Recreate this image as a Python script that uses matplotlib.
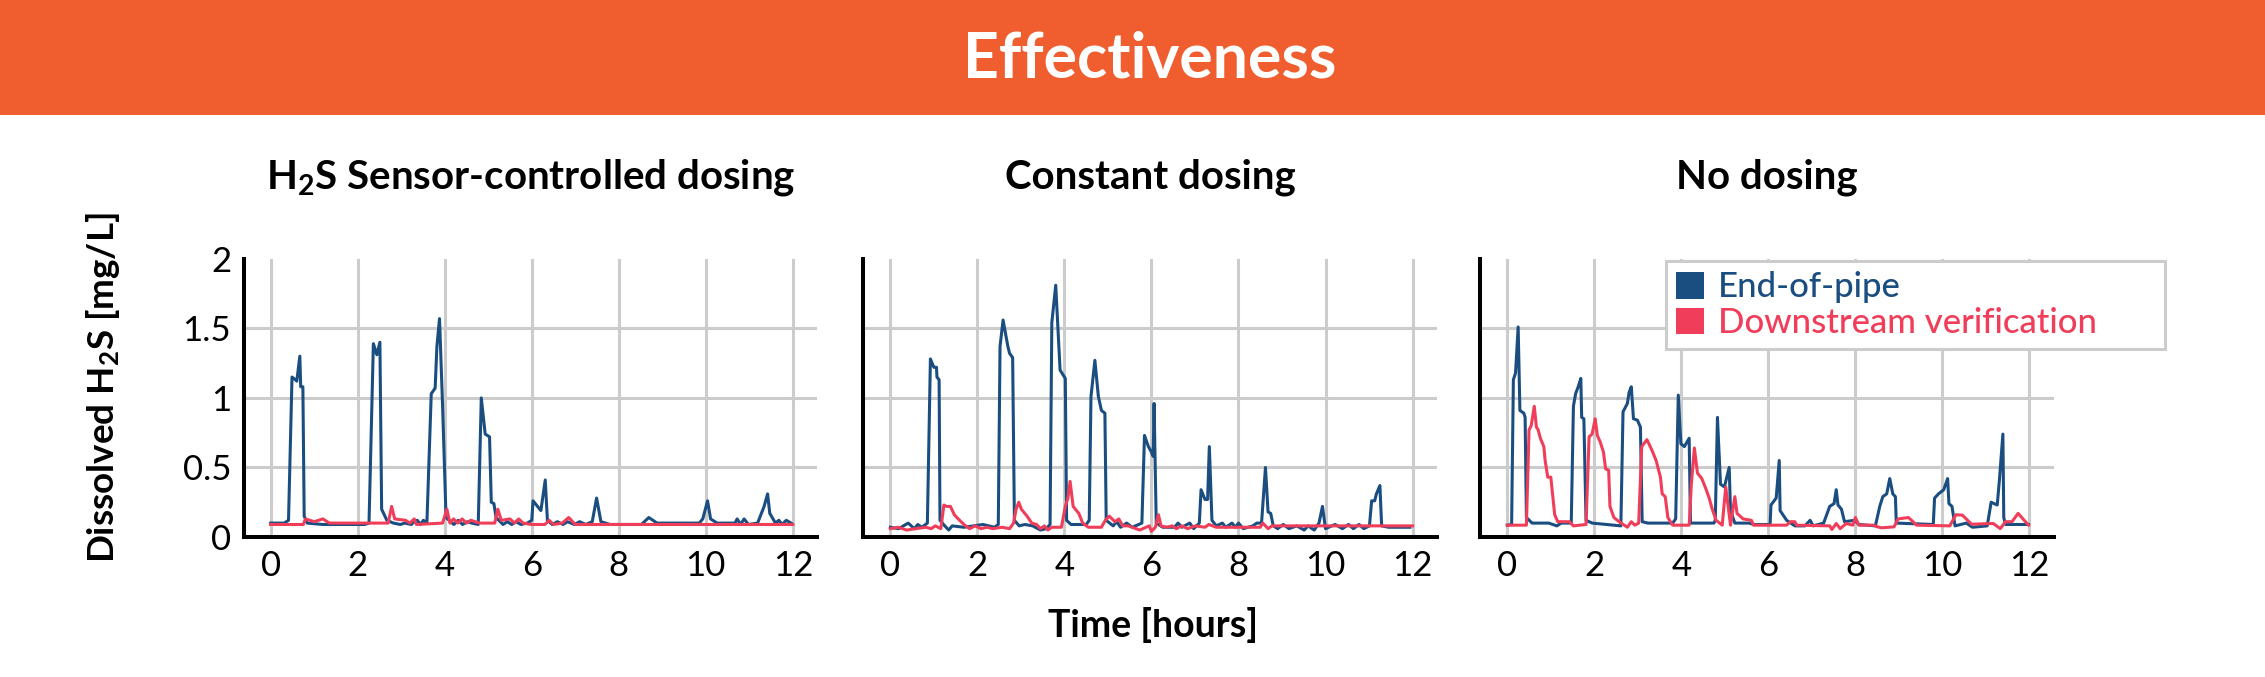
import numpy as np
import matplotlib
matplotlib.use("Agg")
import matplotlib.pyplot as plt
from matplotlib.patches import Patch, Rectangle

plt.rcParams['font.family'] = ['Lato', 'DejaVu Sans']
plt.rcParams['mathtext.default'] = 'regular'

blue = '#1B4E80'
red = '#F03E5A'
orange = '#F05E2F'
grid_grey = '#CCCCCC'

titles = ['H$_2$S Sensor-controlled dosing', 'Constant dosing', 'No dosing']
series_names = ['End-of-pipe', 'Downstream verification']
x_ticks = [0, 2, 4, 6, 8, 10, 12]
y_ticks = [0, 0.5, 1, 1.5, 2]
y_tick_labels = ['0', '0.5', '1', '1.5', '2']

# sensor-controlled dosing
sensor_end_x = [0, 0.31, 0.41, 0.49, 0.57, 0.60, 0.67, 0.69, 0.74, 0.77, 0.84, 1.2, 1.6, 2.16, 2.26, 2.36, 2.44,
                2.51, 2.55, 2.67, 2.82, 2.98, 3.08, 3.23, 3.30, 3.37, 3.44, 3.51, 3.59, 3.69, 3.78, 3.82, 3.88,
                3.95, 4.03, 4.21, 4.31, 4.41, 4.52, 4.62, 4.77, 4.84, 4.93, 5.03, 5.07, 5.13, 5.18, 5.34, 5.44,
                5.54, 5.64, 5.75, 5.90, 6.0, 6.03, 6.21, 6.31, 6.36, 6.47, 6.59, 6.72, 6.82, 6.98, 7.10, 7.24,
                7.39, 7.49, 7.59, 7.80, 8.52, 8.69, 8.88, 9.85, 9.93, 10.04, 10.11, 10.26, 10.67, 10.72, 10.80,
                10.88, 10.98, 11.19, 11.34, 11.42, 11.47, 11.60, 11.68, 11.75, 11.85, 11.96]
sensor_end_y = [0.10, 0.10, 0.12, 1.15, 1.13, 1.12, 1.30, 1.08, 1.08, 0.15, 0.10, 0.09, 0.09, 0.09, 0.10, 1.39, 1.31,
                1.40, 0.20, 0.12, 0.10, 0.09, 0.10, 0.09, 0.11, 0.12, 0.09, 0.12, 0.10, 1.03, 1.07, 1.37, 1.57,
                0.95, 0.14, 0.09, 0.12, 0.09, 0.11, 0.10, 0.09, 1.00, 0.74, 0.72, 0.25, 0.24, 0.14, 0.09, 0.11,
                0.09, 0.11, 0.09, 0.10, 0.12, 0.26, 0.19, 0.41, 0.12, 0.09, 0.11, 0.09, 0.11, 0.09, 0.11, 0.09,
                0.11, 0.28, 0.11, 0.09, 0.09, 0.14, 0.10, 0.10, 0.13, 0.26, 0.13, 0.10, 0.10, 0.13, 0.09,
                0.13, 0.09, 0.10, 0.22, 0.31, 0.17, 0.10, 0.12, 0.09, 0.12, 0.10]
sensor_down_x = [0, 0.75, 0.80, 1.0, 1.2, 1.35, 2.70, 2.78, 2.85, 3.1, 3.2, 3.3, 3.35, 3.95, 4.05, 4.12, 4.2, 4.3,
                 4.4, 4.5, 4.6, 4.8, 5.15, 5.22, 5.3, 5.5, 5.6, 5.7, 5.8, 6.0, 6.3, 6.4, 6.5, 6.7, 6.85, 7.0, 12.0]
sensor_down_y = [0.09, 0.09, 0.13, 0.11, 0.13, 0.10, 0.10, 0.22, 0.13, 0.12, 0.10, 0.13, 0.09, 0.10, 0.20, 0.10,
                 0.13, 0.10, 0.13, 0.10, 0.12, 0.10, 0.10, 0.20, 0.12, 0.13, 0.10, 0.13, 0.10, 0.09, 0.09, 0.12,
                 0.09, 0.10, 0.14, 0.09, 0.09]

# constant dosing
const_end_x = [0, 0.19, 0.41, 0.55, 0.63, 0.72, 0.81, 0.85, 0.92, 1.0, 1.06, 1.07, 1.12, 1.14, 1.25, 1.34, 1.42,
               1.69, 2.13, 2.39, 2.48, 2.52, 2.59, 2.70, 2.74, 2.81, 2.85, 2.96, 3.09, 3.27, 3.45, 3.58, 3.67,
               3.71, 3.80, 3.90, 4.02, 4.05, 4.15, 4.50, 4.57, 4.61, 4.70, 4.78, 4.85, 4.93, 4.96, 5.12, 5.20,
               5.29, 5.43, 5.56, 5.78, 5.84, 5.93, 6.0, 6.04, 6.06, 6.11, 6.26, 6.53, 6.61, 6.70, 6.88, 6.97,
               7.10, 7.14, 7.23, 7.29, 7.33, 7.39, 7.49, 7.63, 7.71, 7.85, 7.93, 8.0, 8.11, 8.33, 8.42, 8.53,
               8.62, 8.68, 8.74, 8.80, 8.90, 9.03, 9.16, 9.34, 9.51, 9.60, 9.74, 9.85, 9.93, 10.0, 10.22,
               10.39, 10.53, 10.64, 10.77, 10.88, 11.01, 11.06, 11.13, 11.17, 11.25, 11.29, 11.45, 11.94]
const_end_y = [0.07, 0.06, 0.10, 0.06, 0.09, 0.07, 0.09, 0.10, 1.28, 1.22, 1.22, 1.15, 1.13, 0.12, 0.08, 0.05, 0.08,
               0.07, 0.09, 0.07, 0.09, 1.37, 1.56, 1.37, 1.32, 1.29, 0.12, 0.08, 0.09, 0.08, 0.05, 0.06, 0.09,
               1.54, 1.81, 1.20, 1.14, 0.12, 0.09, 0.09, 0.12, 1.01, 1.27, 1.01, 0.91, 0.89, 0.12, 0.08, 0.11,
               0.07, 0.10, 0.07, 0.10, 0.73, 0.65, 0.61, 0.58, 0.96, 0.10, 0.07, 0.07, 0.10, 0.07, 0.10, 0.06,
               0.10, 0.34, 0.27, 0.27, 0.65, 0.12, 0.08, 0.10, 0.07, 0.10, 0.07, 0.10, 0.06, 0.08, 0.10, 0.10,
               0.50, 0.18, 0.17, 0.08, 0.06, 0.09, 0.06, 0.08, 0.05, 0.08, 0.05, 0.10, 0.22, 0.06, 0.09,
               0.06, 0.09, 0.06, 0.09, 0.06, 0.08, 0.26, 0.26, 0.31, 0.37, 0.08, 0.07, 0.07]
const_down_x = [0, 0.19, 0.37, 0.81, 0.94, 1.03, 1.16, 1.23, 1.29, 1.38, 1.47, 1.56, 1.69, 1.82, 1.95, 2.08, 2.22,
                2.35, 2.57, 2.74, 2.83, 2.89, 2.95, 3.01, 3.14, 3.25, 3.36, 3.45, 3.54, 3.62, 3.71, 3.93, 4.02,
                4.08, 4.13, 4.20, 4.33, 4.42, 4.55, 4.85, 4.94, 5.03, 5.16, 5.25, 5.34, 5.47, 5.73, 5.95, 6.0,
                6.09, 6.16, 6.22, 6.35, 6.48, 6.57, 6.70, 6.83, 7.01, 7.23, 7.32, 7.49, 8.50, 8.56, 8.68, 8.77,
                12.0]
const_down_y = [0.06, 0.07, 0.05, 0.07, 0.06, 0.08, 0.06, 0.23, 0.22, 0.22, 0.16, 0.13, 0.09, 0.06, 0.08, 0.06,
                0.07, 0.06, 0.07, 0.06, 0.10, 0.20, 0.25, 0.20, 0.15, 0.10, 0.09, 0.06, 0.08, 0.05, 0.07, 0.07,
                0.22, 0.28, 0.40, 0.22, 0.17, 0.10, 0.07, 0.07, 0.12, 0.15, 0.11, 0.13, 0.08, 0.08, 0.05, 0.08,
                0.04, 0.07, 0.16, 0.08, 0.07, 0.08, 0.06, 0.08, 0.06, 0.08, 0.07, 0.09, 0.07, 0.07, 0.10, 0.06,
                0.08, 0.08]

# no dosing
none_end_x = [0, 0.10, 0.14, 0.19, 0.25, 0.29, 0.38, 0.41, 0.44, 0.57, 0.95, 1.14, 1.24, 1.47, 1.52, 1.57, 1.63,
              1.69, 1.71, 1.76, 1.81, 1.95, 2.61, 2.66, 2.76, 2.80, 2.85, 2.90, 2.99, 3.06, 3.10, 3.23, 3.80,
              3.87, 3.93, 3.99, 4.07, 4.18, 4.21, 4.28, 4.75, 4.78, 4.83, 4.90, 4.99, 5.10, 5.13, 5.23, 5.56,
              5.66, 6.04, 6.06, 6.18, 6.25, 6.27, 6.42, 6.61, 6.84, 6.96, 7.03, 7.27, 7.41, 7.51, 7.56, 7.60,
              7.68, 7.75, 7.98, 8.08, 8.46, 8.56, 8.63, 8.72, 8.79, 8.86, 8.92, 8.94, 9.79, 9.82, 9.91, 10.03,
              10.12, 10.15, 10.22, 10.29, 10.55, 10.69, 11.03, 11.12, 11.26, 11.31, 11.39, 11.41, 11.45, 11.98]
none_end_y = [0.085, 0.09, 1.13, 1.18, 1.51, 0.91, 0.89, 0.86, 0.14, 0.10, 0.10, 0.08, 0.10, 0.10, 0.94, 1.03, 1.08,
              1.14, 0.86, 0.85, 0.12, 0.10, 0.08, 0.90, 0.96, 1.04, 1.08, 0.85, 0.84, 0.79, 0.11, 0.10, 0.10,
              0.13, 1.02, 0.67, 0.65, 0.71, 0.10, 0.10, 0.10, 0.12, 0.86, 0.38, 0.36, 0.50, 0.19, 0.10, 0.10,
              0.09, 0.09, 0.23, 0.28, 0.55, 0.19, 0.12, 0.08, 0.08, 0.12, 0.08, 0.10, 0.22, 0.24, 0.34, 0.23,
              0.20, 0.11, 0.12, 0.09, 0.08, 0.22, 0.29, 0.31, 0.42, 0.31, 0.29, 0.10, 0.09, 0.28, 0.31, 0.34,
              0.42, 0.24, 0.22, 0.08, 0.10, 0.07, 0.08, 0.25, 0.23, 0.41, 0.74, 0.14, 0.09, 0.09]
none_down_x = [0, 0.44, 0.50, 0.55, 0.62, 0.67, 0.71, 0.76, 0.84, 0.87, 0.93, 1.0, 1.09, 1.16, 1.43, 1.52, 1.81,
               1.88, 1.95, 2.02, 2.07, 2.14, 2.21, 2.26, 2.33, 2.36, 2.45, 2.57, 2.76, 2.85, 2.93, 3.02, 3.09,
               3.21, 3.33, 3.42, 3.52, 3.56, 3.63, 3.69, 3.80, 4.18, 4.23, 4.30, 4.37, 4.47, 4.56, 4.64, 4.71,
               4.80, 4.94, 5.02, 5.13, 5.23, 5.28, 5.42, 5.61, 5.66, 6.42, 6.51, 6.61, 6.65, 7.41, 7.46, 7.56,
               7.65, 7.79, 7.94, 8.0, 8.08, 8.41, 8.51, 8.60, 8.89, 8.98, 9.22, 9.41, 10.17, 10.31, 10.46,
               10.67, 11.17, 11.33, 11.45, 11.60, 11.74, 11.88, 11.98]
none_down_y = [0.085, 0.085, 0.77, 0.80, 0.94, 0.79, 0.77, 0.71, 0.65, 0.55, 0.43, 0.43, 0.16, 0.11, 0.11, 0.08,
               0.09, 0.72, 0.74, 0.85, 0.73, 0.68, 0.61, 0.49, 0.48, 0.22, 0.14, 0.11, 0.07, 0.11, 0.085, 0.10,
               0.65, 0.70, 0.62, 0.55, 0.43, 0.31, 0.29, 0.14, 0.085, 0.085, 0.38, 0.64, 0.46, 0.42, 0.35, 0.28,
               0.20, 0.12, 0.085, 0.36, 0.085, 0.29, 0.17, 0.13, 0.12, 0.085, 0.085, 0.11, 0.11, 0.085, 0.08,
               0.054, 0.097, 0.06, 0.097, 0.085, 0.14, 0.085, 0.085, 0.073, 0.066, 0.073, 0.13, 0.14, 0.085,
               0.08, 0.16, 0.157, 0.092, 0.097, 0.06, 0.11, 0.11, 0.17, 0.12, 0.085]

panel_data = [
    (sensor_end_x, sensor_end_y, sensor_down_x, sensor_down_y),
    (const_end_x, const_end_y, const_down_x, const_down_y),
    (none_end_x, none_end_y, none_down_x, none_down_y),
]

W, H = 2265, 677
fig = plt.figure(figsize=(W / 100, H / 100), dpi=100)

# orange header band
fig.patches.append(Rectangle((0, 1 - 115 / H), 1, 115 / H, transform=fig.transFigure,
                             facecolor=orange, edgecolor='none', zorder=0))
fig.text(1150 / W, 1 - 77 / H, 'Effectiveness', color='white', fontsize=45, fontweight='bold',
         ha='center', va='baseline')

#pixel positions of the three panels
lefts = [243.7, 863.4, 1480.3]
ax_w = 573.5
ax_bottom = 537
ax_top = 258.8

for i, (ex, ey, dx, dy) in enumerate(panel_data):
    ax = fig.add_axes([lefts[i] / W, 1 - ax_bottom / H, ax_w / W, (ax_bottom - ax_top) / H])
    ax.plot(ex, ey, color=blue, lw=2.2, zorder=3)
    ax.plot(dx, dy, color=red, lw=2.2, zorder=4)
    ax.set_xlim(-0.62, 12.56)
    ax.set_ylim(0, 2)
    ax.set_xticks(x_ticks)
    ax.set_yticks(y_ticks)
    ax.grid(True, color=grid_grey, lw=2.2, zorder=0)
    ax.set_axisbelow(True)
    ax.get_ygridlines()[-1].set_visible(False)
    ax.get_ygridlines()[0].set_visible(False)
    for s in ['top', 'right']:
        ax.spines[s].set_visible(False)
    for s in ['left', 'bottom']:
        ax.spines[s].set_linewidth(2.9)
        ax.spines[s].set_color('black')
    ax.tick_params(length=0, labelsize=25)
    ax.tick_params(axis='x', pad=9)
    ax.tick_params(axis='y', pad=9)
    if i == 0:
        ax.set_yticklabels(y_tick_labels)
    else:
        ax.set_yticklabels([])
    fig.text((lefts[i] + ax_w / 2) / W, 1 - 189 / H, titles[i], fontsize=29, fontweight='bold',
             ha='center', va='baseline')
    if i == 2:
        handles = [Patch(facecolor=blue, edgecolor='none'), Patch(facecolor=red, edgecolor='none')]
        leg = ax.legend(handles, series_names, loc='upper left', mode='expand',
                        bbox_to_anchor=(1666 / W, 1 - 343 / H, 499 / W, 82 / H),
                        bbox_transform=fig.transFigure,
                        fontsize=25, handlelength=0.8, handleheight=0.8, handletextpad=0.4,
                        labelspacing=0.1, borderpad=0.3, borderaxespad=0, fancybox=False,
                        framealpha=1, edgecolor=grid_grey)
        leg.get_frame().set_linewidth(2.2)
        for t, c in zip(leg.get_texts(), [blue, red]):
            t.set_color(c)
            t.set_fontweight('medium')

fig.text(103 / W, 1 - 388 / H, 'Dissolved H$_2$S [mg/L]', rotation=90, fontsize=26.5, fontweight='bold',
         ha='center', va='center')
fig.text(1153 / W, 1 - 637 / H, 'Time [hours]', fontsize=27, fontweight='bold', ha='center', va='baseline')

fig.savefig('out.png', dpi=100)
